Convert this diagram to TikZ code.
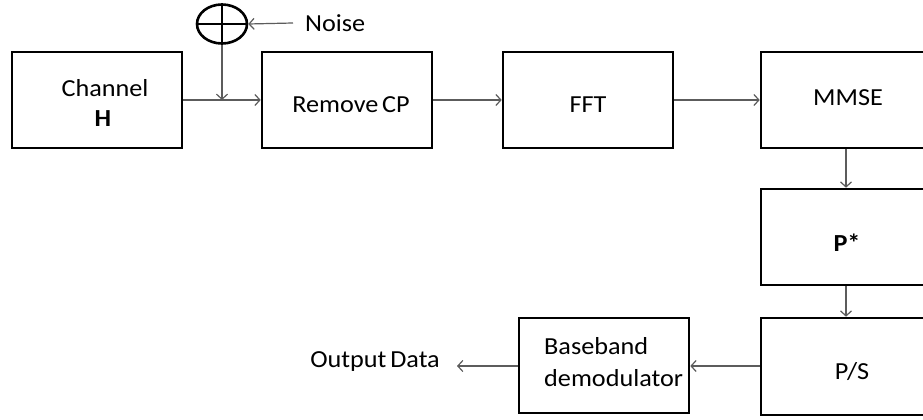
\documentclass[tikz,border=0pt]{standalone}
\usepackage{fontspec}
\setmainfont{Carlito}
\usetikzlibrary{arrows.meta,calc,shapes.geometric}
\definecolor{wire}{HTML}{5C5C5C}
% slightly widened caption text
\newcommand{\blkcap}[1]{\scalebox{1.07}[1]{#1}}
\begin{document}
\begin{tikzpicture}[x=1pt,y=1pt,
  blk/.style={draw=black,line width=2.6pt,minimum width=170pt,minimum height=96pt,inner sep=0pt},
  txt/.style={font=\fontsize{24.5}{29}\selectfont,inner sep=0pt},
  sig/.style={draw=wire,line width=1.2pt,-{Straight Barb[length=5pt,width=11pt]}}]
\useasboundingbox (0,0) rectangle (923,420);
\clip (0,0) rectangle (923,420);
\fill[white] (0,0) rectangle (923,420);

% processing blocks
\node[blk] (ch)    at (97,320)   {};
\node[blk] (rcp)   at (347,320)  {};
\node[blk] (fft)   at (588,320)  {};
\node[blk] (mmse)  at (846,320)  {};
\node[blk] (pstar) at (846,183)  {};
\node[blk,minimum height=97pt] (ps) at (846,53.5) {};
\node[blk,minimum height=95pt] (bb) at (604,54.5) {};

% block captions
\node[txt] (tch)  at (105,332) {\blkcap{Channel}};
\node[txt] (th)   at (103,301) {\blkcap{\bfseries H}};
\node[txt] (trcp) at (351,315) {\blkcap{Remove\kern-2pt\ CP}};
\node[txt] (tfft) at (588,315) {\blkcap{FFT}};
\node[txt] (tmm)  at (848,322) {\blkcap{MMSE}};
\node[txt] (tpstar) at (847,177) {\blkcap{\bfseries P*}};
\node[txt] (tps)  at (852,48)  {\blkcap{P/S}};
\node[txt,anchor=west] (tbb1) at (544,74) {\blkcap{Baseband}};
\node[txt,anchor=west] (tbb2) at (544,42) {\blkcap{demodulator}};

% noise adder
\node[draw=black,line width=2.6pt,ellipse,minimum width=50pt,minimum height=39pt,inner sep=0pt] (add) at (222,396) {};
\draw[black,line width=2.6pt] (add.north) -- (add.south) (add.west) -- (add.east);
\node[txt,anchor=west] (noise) at (305,397) {\blkcap{Noise}};
\coordinate (nsrc) at (293,397);
\coordinate (j) at (add.south |- ch.east);

% output label
\node[txt,anchor=east] (out) at (440,58) {\blkcap{Output\kern-2pt\ Data}};

% signal path
\draw[sig] (ch.east) -- (rcp.west);
\draw[sig] (add.south) -- (j);
\draw[sig] (nsrc) -- (add.east);
\draw[sig] (rcp.east) -- (fft.west);
\draw[sig] (fft.east) -- (mmse.west);
\draw[sig] (mmse.south) -- (pstar.north);
\draw[sig] (pstar.south) -- (ps.north);
\draw[sig] (ps.west |- 0,54) -- (bb.east |- 0,54);
\draw[sig] (bb.west |- 0,54) -- ($(out.east |- 0,54)+(17,0)$);
\end{tikzpicture}
\end{document}
